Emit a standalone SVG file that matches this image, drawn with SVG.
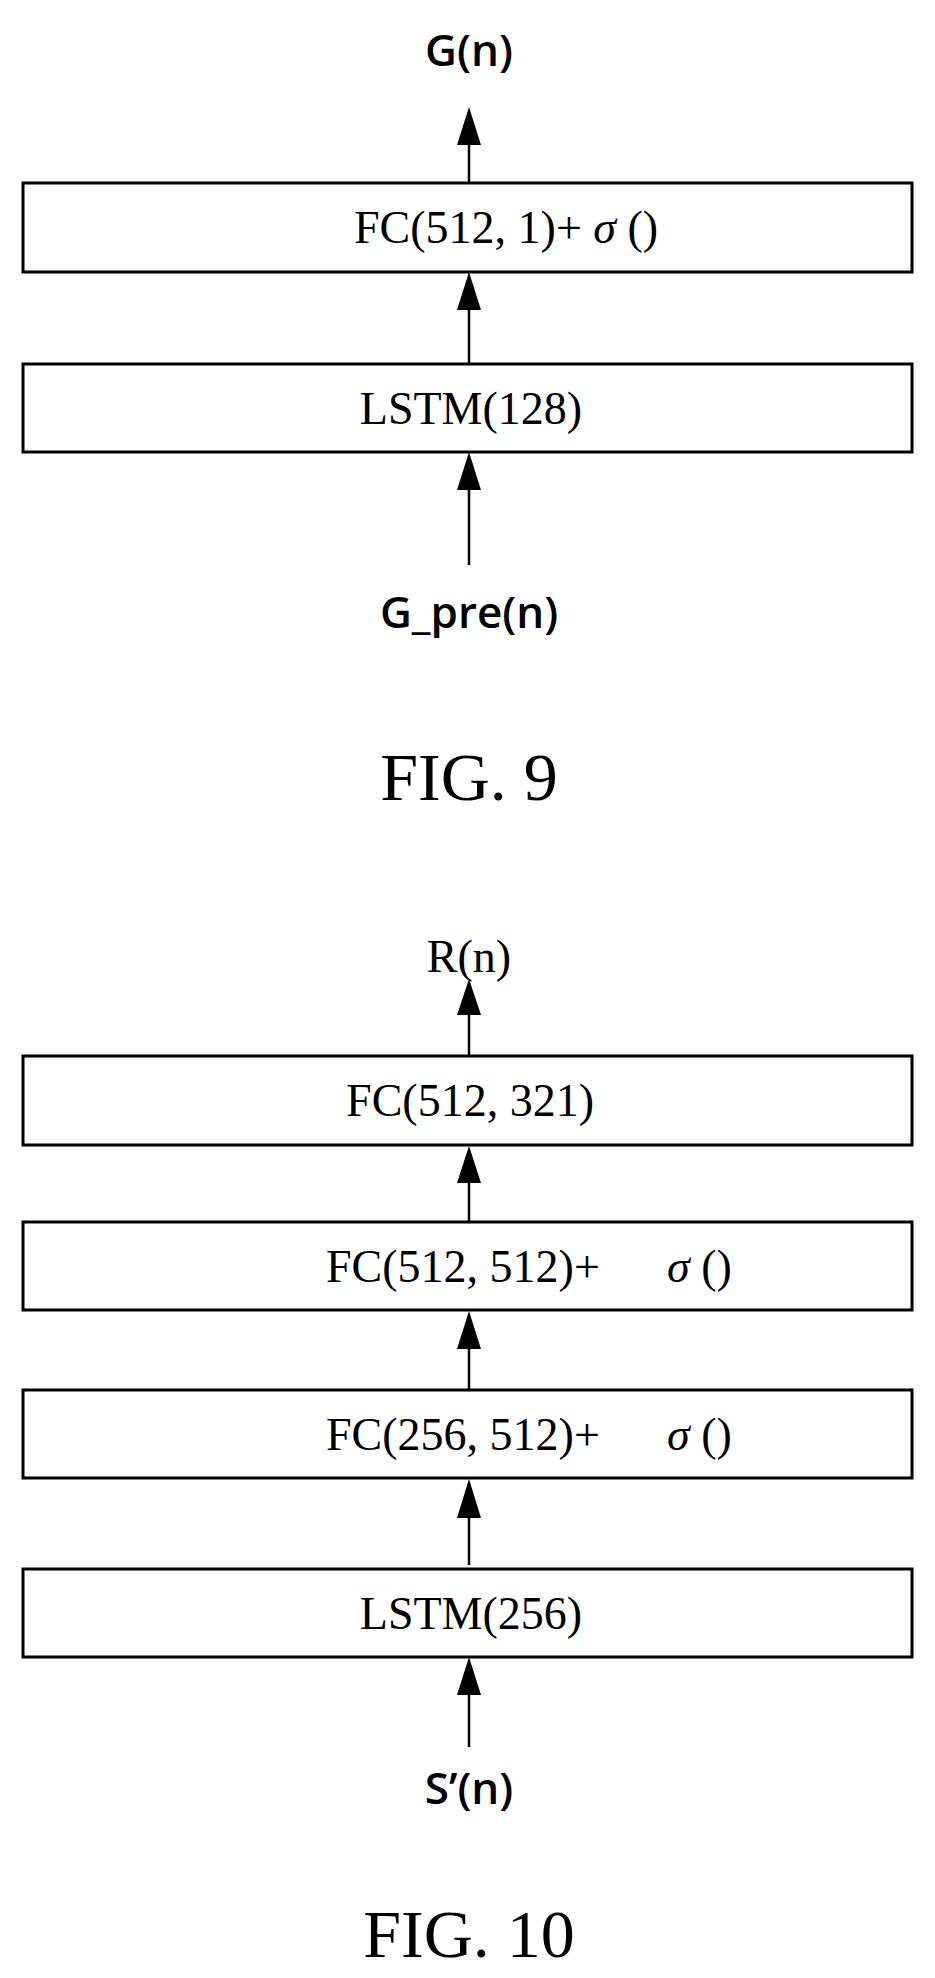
<svg xmlns="http://www.w3.org/2000/svg" width="935" height="1978" viewBox="0 0 935 1978">
<style>
.box{fill:#fff;stroke:#000;stroke-width:3}
.t{font-family:"Liberation Serif",serif;font-size:46px;fill:#000}
.s{font-family:"Open Sans","Liberation Sans",sans-serif;font-size:44px;fill:#000}
.fig{font-family:"Liberation Serif",serif;font-size:68px;fill:#000}
.ln{stroke:#000;stroke-width:2.5;fill:none}
.ah{fill:#000}
</style>
<rect width="935" height="1978" fill="#fff"/>
<g id="connectors">
<line class="ln" x1="469" y1="183" x2="469" y2="140"/><polygon class="ah" points="469,107 457,145 481,145"/>
<line class="ln" x1="469" y1="364" x2="469" y2="305"/><polygon class="ah" points="469,272 457,310 481,310"/>
<line class="ln" x1="469" y1="565" x2="469" y2="485"/><polygon class="ah" points="469,452 457,490 481,490"/>
<line class="ln" x1="469" y1="1056" x2="469" y2="1010"/><polygon class="ah" points="469,979 457,1015 481,1015"/>
<line class="ln" x1="469" y1="1222" x2="469" y2="1175"/><polygon class="ah" points="469,1146 457,1183 481,1183"/>
<line class="ln" x1="469" y1="1390" x2="469" y2="1342"/><polygon class="ah" points="469,1311 457,1349 481,1349"/>
<line class="ln" x1="469" y1="1565" x2="469" y2="1515"/><polygon class="ah" points="469,1479 457,1518 481,1518"/>
<line class="ln" x1="469" y1="1747" x2="469" y2="1690"/><polygon class="ah" points="469,1657 457,1695 481,1695"/>
</g>
<g id="g_out"><text class="s" x="469" y="66" text-anchor="middle" font-size="50" font-weight="600">G(n)</text></g>
<g id="fc1"><rect class="box" x="23" y="183" width="889" height="89"/><text class="t" x="354" y="243">FC(512, 1)+ <tspan font-style="italic">σ</tspan> ()</text></g>
<g id="lstm128"><rect class="box" x="23" y="364" width="889" height="88"/><text class="t" x="471" y="424" text-anchor="middle">LSTM(128)</text></g>
<g id="g_pre"><text class="s" x="469" y="628" text-anchor="middle" font-weight="600">G_pre(n)</text></g>
<text class="fig" x="469" y="800" text-anchor="middle">FIG. 9</text>
<g id="r_out"><text class="t" x="469" y="972" text-anchor="middle">R(n)</text></g>
<g id="fc321"><rect class="box" x="23" y="1056" width="889" height="89"/><text class="t" x="470" y="1116" text-anchor="middle">FC(512, 321)</text></g>
<g id="fc512"><rect class="box" x="23" y="1222" width="889" height="88"/><text class="t" x="326" y="1282">FC(512, 512)+</text><text class="t" x="667" y="1282"><tspan font-style="italic">σ</tspan> ()</text></g>
<g id="fc256"><rect class="box" x="23" y="1390" width="889" height="88"/><text class="t" x="326" y="1450">FC(256, 512)+</text><text class="t" x="667" y="1450"><tspan font-style="italic">σ</tspan> ()</text></g>
<g id="lstm256"><rect class="box" x="23" y="1569" width="889" height="88"/><text class="t" x="471" y="1629" text-anchor="middle">LSTM(256)</text></g>
<g id="s_in"><text class="s" x="469" y="1804" text-anchor="middle" font-weight="600">S’(n)</text></g>
<text class="fig" x="469" y="1957" text-anchor="middle">FIG. 10</text>
</svg>
